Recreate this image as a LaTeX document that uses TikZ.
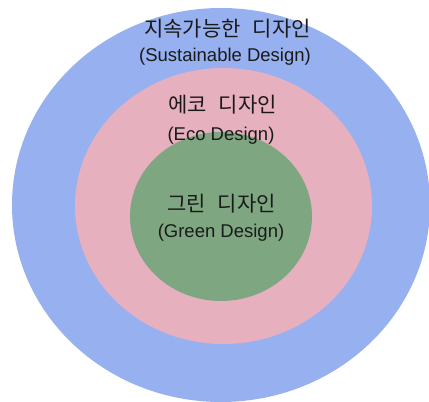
\documentclass[tikz,border=0pt]{standalone}
\usepackage{fontspec}
\newfontfamily\krfont[WordSpace=2.6]{Noto Sans CJK KR}
\newfontfamily\latfont{Liberation Sans}
\definecolor{outerblue}{HTML}{97B0F0}
\definecolor{midpink}{HTML}{E6B0BE}
\definecolor{innergreen}{HTML}{7EA681}
\definecolor{txt}{HTML}{1A1A1A}
\begin{document}
\begin{tikzpicture}[x=1pt,y=1pt,
  kr/.style={inner sep=0pt, text=txt, font=\krfont\fontsize{21}{25}\selectfont},
  lat/.style={inner sep=0pt, text=txt, font=\latfont\fontsize{18.5}{22}\selectfont}]
\useasboundingbox (0,0) rectangle (429,402);
\clip (0,0) rectangle (429,402);
\fill[outerblue] (221,197) ellipse [x radius=209, y radius=197];
\fill[midpink] (223.5,196) ellipse [x radius=148.5, y radius=138];
\fill[innergreen] (221,185.5) ellipse [x radius=91, y radius=84.5];
\node[kr] (s1) at (227.5,373.5) {지속가능한 디자인};
\node[lat] (s2) at (225,345.7) {(Sustainable Design)};
\node[kr] (e1) at (222.5,297) {에코 디자인};
\node[lat] (e2) at (221,266) {(Eco Design)};
\node[kr] (g1) at (221.5,198) {그린 디자인};
\node[lat] (g2) at (221,169.5) {(Green Design)};
\end{tikzpicture}
\end{document}
